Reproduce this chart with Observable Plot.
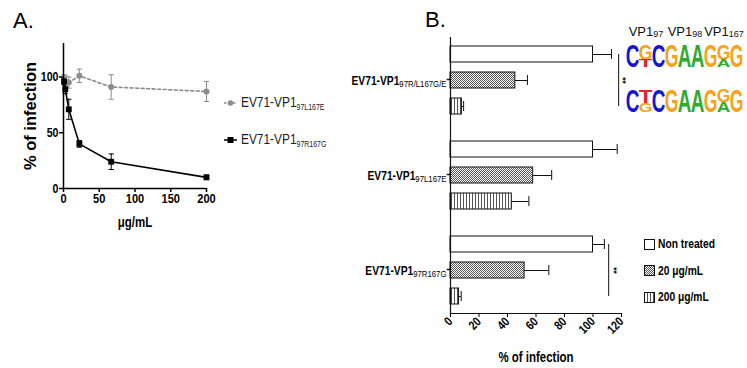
<!DOCTYPE html>
<html><head><meta charset="utf-8">
<script src="https://cdn.jsdelivr.net/npm/d3@7"></script>
<script src="https://cdn.jsdelivr.net/npm/@observablehq/plot@0.6"></script>
<style>
body{margin:0;background:#fff;}
#root{position:relative;width:747px;height:368px;overflow:hidden;background:#fff;font-family:"Liberation Sans",Arial,sans-serif;}
.abs{position:absolute;}
.plabel{position:absolute;font-family:"Liberation Sans",Arial,sans-serif;font-size:22px;line-height:22px;color:#000;}
.squeeze{display:inline-block;transform:scaleX(0.82);transform-origin:0 50%;}
#legA .lrow{display:flex;align-items:center;height:16px;margin-bottom:21px;font-size:14.5px;color:#222;white-space:nowrap;}
#legA sub{font-size:8.5px;vertical-align:-3px;}
#legA svg{margin-right:3px;}
#legB .lrow{display:flex;align-items:center;height:26.5px;font-size:12.5px;font-weight:bold;color:#000;white-space:nowrap;}
#legB svg{margin-right:3px;}
</style></head><body>
<svg width="0" height="0" style="position:absolute">
 <defs>
  <pattern id="pat20" width="2" height="2" patternUnits="userSpaceOnUse">
   <rect width="2" height="2" fill="#fff"/>
   <rect width="1" height="1" fill="#555"/>
   <rect x="1" y="1" width="1" height="1" fill="#555"/>
  </pattern>
  <pattern id="pat200" width="3" height="3" patternUnits="userSpaceOnUse">
   <rect width="3" height="3" fill="#fff"/>
   <rect x="0" y="0" width="1" height="3" fill="#555"/>
  </pattern>
 </defs>
</svg>
<div id="root">
 <div class="plabel" style="left:13px;top:10px">A.</div>
 <div class="plabel" style="left:425px;top:9px">B.</div>
 <div id="panelA" class="abs" style="left:0;top:0"></div>
 <div id="legA" class="abs" style="left:223px;top:95px"></div>
 <div id="panelB" class="abs" style="left:250px;top:0"></div>
 <div id="logo" class="abs" style="left:620px;top:0"></div>
 <div id="legB" class="abs" style="left:644px;top:231px"></div>
</div>
<script>
// ---------- Panel A data ----------
const concA = [0.82, 2.47, 7.41, 22.2, 66.7, 200];
const seriesNamesA = ["EV71-VP1_97L167E", "EV71-VP1_97R167G"];
const infectionL167E = [98, 96, 95, 101, 91, 87];
const errorL167E = [4, 5, 5, 6, 11, 9];
const infectionR167G = [96, 89, 71, 40, 24, 10];
const errorR167G = [3, 4, 9, 3, 7, 2];
const ticksAx = [0, 50, 100, 150, 200];
const ticksAy = [0, 50, 100];

// ---------- Panel B data ----------
const groupsB = ["EV71-VP1_97R/L167G/E", "EV71-VP1_97L167E", "EV71-VP1_97R167G"];
const treatmentsB = ["Non treated", "20 μg/mL", "200 μg/mL"];
const nonTreated = [100, 100, 100];
const nonTreatedErr = [13, 17, 8];
const treated20 = [45.5, 58, 52];
const treated20Err = [8.5, 13, 17];
const treated200 = [8, 43, 6];
const treated200Err = [1.2, 12, 1.5];
const ticksBx = [0, 20, 40, 60, 80, 100, 120];
const sigGroups = [groupsB[0], groupsB[2]];
const sigX = [118, 111];
const sigStarX = [121, 114.5];
const sigLabels = ["**", "**"];

// ---------- Sequence logo data ----------
const logoRows = ["row1", "row2"];
const logoLetters = [
  [["C"], ["G", "T"], ["C"], ["G"], ["A"], ["A"], ["G"], ["G", "A"], ["G"]],
  [["C"], ["T", "G"], ["C"], ["G"], ["A"], ["A"], ["G"], ["G", "A"], ["G"]]
];
const logoFractions = [
  [[1], [0.68, 0.32], [1], [1], [1], [1], [1], [0.68, 0.32], [1]],
  [[1], [0.6, 0.4], [1], [1], [1], [1], [1], [0.55, 0.45], [1]]
];
const logoHeaders = ["VP1_97", "VP1_98", "VP1_167"];
const logoHeaderPos = [2, 5, 8];

// ---------- styles ----------
const NARROW = "Arial, Liberation Sans, sans-serif";   // rendered condensed afterwards
const SANS = "Liberation Sans, Arial, sans-serif";
const SQUEEZE = 0.82;
const seriesColorA = ["#8c8c8c", "#000000"];
const letterColor = {A: "#2eaa2e", C: "#1414d2", G: "#f6a21a", T: "#e0262a"};
const capSym = {draw(ctx, size) { const w = Math.sqrt(size); ctx.moveTo(-w / 2, 0); ctx.lineTo(w / 2, 0); }};

function subscriptify(root, subSize, subDy, subWeight) {
  d3.select(root).selectAll("text").each(function() {
    const t = this.textContent;
    if (!t.includes("_")) return;
    const [a, b] = t.split("_");
    const el = d3.select(this);
    el.text(null);
    el.append("tspan").text(a);
    el.append("tspan").attr("font-size", subSize).attr("dy", subDy).attr("font-weight", subWeight).text(b);
  });
}
// condense texts drawn with the NARROW family (mimics the horizontally squeezed original)
function squeeze(root) {
  d3.select(root).selectAll("text").each(function() {
    const holder = this.closest("[font-family]");
    if (!holder || !holder.getAttribute("font-family").startsWith("Arial")) return;
    let tr = this.getAttribute("transform");
    if (!tr) {
      const x = this.getAttribute("x") || 0, y = this.getAttribute("y") || 0;
      tr = `translate(${x},${y})`;
      this.removeAttribute("x"); this.removeAttribute("y");
    }
    this.setAttribute("transform", `${tr} scale(${SQUEEZE},1)`);
  });
}

// ---------- Panel A ----------
const dataA = [];
[[infectionL167E, errorL167E], [infectionR167G, errorR167G]].forEach(([vals, errs], si) => {
  concA.forEach((c, i) => dataA.push({series: seriesNamesA[si], conc: c, v: vals[i], e: errs[i]}));
});
const isGray = d => d.series === seriesNamesA[0];
const isBlack = d => d.series === seriesNamesA[1];

const plotA = Plot.plot({
  width: 216, height: 233,
  marginLeft: 63, marginRight: 10, marginTop: 43, marginBottom: 45,
  style: {background: "none", overflow: "visible"},
  x: {domain: [0, 200]},
  y: {domain: [0, 130]},
  marks: [
    Plot.ruleX(dataA, {filter: isGray, x: "conc", y1: d => d.v - d.e, y2: d => d.v + d.e, stroke: seriesColorA[0], strokeWidth: 1}),
    Plot.dot(dataA, {filter: isGray, x: "conc", y: d => d.v - d.e, symbol: capSym, r: 3, fill: "none", stroke: seriesColorA[0], strokeWidth: 1}),
    Plot.dot(dataA, {filter: isGray, x: "conc", y: d => d.v + d.e, symbol: capSym, r: 3, fill: "none", stroke: seriesColorA[0], strokeWidth: 1}),
    Plot.ruleX(dataA, {filter: isBlack, x: "conc", y1: d => d.v - d.e, y2: d => d.v + d.e, stroke: seriesColorA[1], strokeWidth: 1}),
    Plot.dot(dataA, {filter: isBlack, x: "conc", y: d => d.v - d.e, symbol: capSym, r: 3, fill: "none", stroke: seriesColorA[1], strokeWidth: 1}),
    Plot.dot(dataA, {filter: isBlack, x: "conc", y: d => d.v + d.e, symbol: capSym, r: 3, fill: "none", stroke: seriesColorA[1], strokeWidth: 1}),
    Plot.line(dataA, {filter: isGray, x: "conc", y: "v", stroke: seriesColorA[0], strokeWidth: 1.6, strokeDasharray: "3,2.5"}),
    Plot.line(dataA, {filter: isBlack, x: "conc", y: "v", stroke: seriesColorA[1], strokeWidth: 1.6}),
    Plot.dot(dataA, {filter: isGray, x: "conc", y: "v", symbol: "circle", r: 3, fill: seriesColorA[0]}),
    Plot.dot(dataA, {filter: isBlack, x: "conc", y: "v", symbol: "square", r: 3.3, fill: seriesColorA[1]}),
    Plot.ruleX([0], {stroke: "black", strokeWidth: 1.5}),
    Plot.ruleY([0], {stroke: "black", strokeWidth: 1.5}),
    Plot.axisY({ticks: ticksAy, tickSize: 4, tickPadding: 1, fontSize: 13, fontWeight: "bold", fontFamily: NARROW, label: null, strokeWidth: 1.5}),
    Plot.axisX({ticks: ticksAx, tickSize: 4, tickPadding: 1, fontSize: 13.5, fontWeight: "bold", fontFamily: NARROW, label: null, strokeWidth: 1.5}),
    Plot.text(["% of infection"], {text: d => d, frameAnchor: "left", textAnchor: "middle", rotate: -90, dx: -33, fontSize: 16.5, fontWeight: "bold", fontFamily: SANS}),
    Plot.text(["μg/mL"], {text: d => d, frameAnchor: "bottom", dy: 38, fontSize: 14, fontWeight: "bold", fontFamily: NARROW})
  ]
});
document.getElementById("panelA").append(plotA);
squeeze(plotA);

// Legend A
const legA = d3.select("#legA");
seriesNamesA.forEach((name, i) => {
  const row = legA.append("div").attr("class", "lrow");
  const sw = row.append("svg").attr("width", 15).attr("height", 10);
  sw.append("line").attr("x1", 1).attr("x2", 14).attr("y1", 5).attr("y2", 5)
    .attr("stroke", seriesColorA[i]).attr("stroke-width", 1.5)
    .attr("stroke-dasharray", i === 0 ? "2.5,2" : null);
  if (i === 0) sw.append("circle").attr("cx", 7.5).attr("cy", 5).attr("r", 2.8).attr("fill", seriesColorA[i]);
  else sw.append("rect").attr("x", 4.5).attr("y", 2).attr("width", 6).attr("height", 6).attr("fill", seriesColorA[i]);
  const [m, s] = name.split("_");
  const tx = row.append("span").attr("class", "squeeze");
  tx.append("span").text(m);
  tx.append("sub").text(s);
});

// ---------- Panel B ----------
const valsB = [nonTreated, treated20, treated200];
const errsB = [nonTreatedErr, treated20Err, treated200Err];
const dataB = groupsB.flatMap((g, gi) => treatmentsB.map((t, ti) => ({group: g, treatment: t, v: valsB[ti][gi], e: errsB[ti][gi]})));
const sigData = sigGroups.map((g, i) => ({group: g, x: sigX[i], sx: sigStarX[i], label: sigLabels[i]}));
const fillKey = ["white", "#010101", "#020202"];

const plotB = Plot.plot({
  width: 400, height: 368,
  marginLeft: 200, marginRight: 29, marginTop: 37, marginBottom: 55,
  style: {background: "none", overflow: "visible"},
  x: {domain: [0, 120]},
  y: {domain: treatmentsB, paddingInner: 0.385, paddingOuter: 0.346, axis: null},
  fy: {domain: groupsB, paddingInner: 0.096, paddingOuter: 0, axis: null},
  marks: [
    ...treatmentsB.map((t, ti) => Plot.barX(dataB, {filter: d => d.treatment === t, fy: "group", y: "treatment", x: "v", fill: fillKey[ti], stroke: "#111", strokeWidth: 1})),
    Plot.ruleY(dataB, {fy: "group", y: "treatment", x1: "v", x2: d => d.v + d.e, stroke: "#111", strokeWidth: 1}),
    Plot.tickX(dataB, {fy: "group", y: "treatment", x: d => d.v + d.e, insetTop: 3, insetBottom: 3, stroke: "#111", strokeWidth: 1}),
    Plot.ruleX(sigData, {fy: "group", x: "x", y1: () => treatmentsB[0], y2: () => treatmentsB[2], insetTop: 8, insetBottom: 8, stroke: "#111", strokeWidth: 1}),
    Plot.text(sigData, {fy: "group", x: "sx", y: () => treatmentsB[1], text: "label", rotate: 90, fontSize: 8.5, fontWeight: "bold", fontFamily: SANS}),
    Plot.text(groupsB, {fy: d => d, text: d => d, frameAnchor: "left", textAnchor: "end", dx: -4, fontSize: 12.5, fontWeight: "bold", fontFamily: NARROW}),
    Plot.dot(groupsB, {fy: d => d, frameAnchor: "left", dx: -2, dy: -1, symbol: capSym, r: 2, fill: "none", stroke: "#111"}),
    Plot.frame({anchor: "left", facet: "super", stroke: "#111", strokeWidth: 1.2}),
    Plot.frame({anchor: "bottom", facet: "super", stroke: "#111", strokeWidth: 1.2}),
    Plot.axisX({ticks: ticksBx, tickRotate: -45, tickSize: 4, tickPadding: 2, fontSize: 12.5, fontWeight: "bold", fontFamily: NARROW, label: null}),
    Plot.axisX({ticks: [], tickSize: 0, label: "% of infection", labelAnchor: "center", labelOffset: 48, labelArrow: "none", fontSize: 14, fontWeight: "bold", fontFamily: NARROW})
  ]
});
document.getElementById("panelB").append(plotB);
d3.select(plotB).selectAll('[fill="#010101"]').attr("fill", "url(#pat20)");
d3.select(plotB).selectAll('[fill="#020202"]').attr("fill", "url(#pat200)");
subscriptify(plotB, 9.5, "0.3em", "normal");
squeeze(plotB);

// Legend B
const legB = d3.select("#legB");
treatmentsB.forEach((t, i) => {
  const row = legB.append("div").attr("class", "lrow");
  const sw = row.append("svg").attr("width", 11).attr("height", 11);
  sw.append("rect").attr("x", 0.5).attr("y", 0.5).attr("width", 10).attr("height", 10)
    .attr("fill", ["#fff", "url(#pat20)", "url(#pat200)"][i]).attr("stroke", "#111");
  row.append("span").attr("class", "squeeze").text(t);
});

// ---------- Sequence logo ----------
const logoData = [];
logoRows.forEach((r, ri) => {
  logoLetters[ri].forEach((stack, pi) => {
    let cum = 1;
    stack.forEach((L, k) => {
      const f = logoFractions[ri][pi][k];
      logoData.push({id: logoData.length, row: r, pos: pi + 1, letter: L, top: cum, bottom: cum - f, frac: f});
      cum -= f;
    });
  });
});
const headerData = logoHeaders.map((h, i) => ({row: logoRows[0], label: h, pos: logoHeaderPos[i]}));
const LFS = 20;
const plotLogo = Plot.plot({
  width: 127, height: 120,
  marginLeft: 6, marginRight: 4, marginTop: 43, marginBottom: 7,
  style: {background: "none", overflow: "visible"},
  x: {domain: [0.5, 9.5], axis: null},
  y: {domain: [0, 1], axis: null},
  fy: {domain: logoRows, paddingInner: 0.478, paddingOuter: 0, axis: null},
  color: {type: "identity"},
  marks: [
    Plot.text(logoData, {fy: "row", x: "pos", y: "bottom", text: "letter", fill: d => letterColor[d.letter], fontSize: LFS, fontWeight: "bold", fontFamily: SANS, ariaLabel: d => `logo-letter-${d.id}`}),
    Plot.text(headerData, {fy: "row", x: "pos", y: () => 1, dy: -13, text: "label", fontSize: 13, fontFamily: SANS, fill: "#111"})
  ]
});
document.getElementById("logo").append(plotLogo);
subscriptify(plotLogo, 9, "0.1em", "normal");
{
  const xs = plotLogo.scale("x"), fys = plotLogo.scale("fy");
  const bw = fys.bandwidth;
  const cellW = xs.apply(1.5) - xs.apply(0.5);
  const svgRoot = d3.select(plotLogo);
  const layer = svgRoot.append("g").attr("aria-label", "logo-letters-stretched")
    .attr("font-family", SANS).attr("font-weight", "bold").attr("font-size", LFS).attr("text-anchor", "middle");
  const nodes = d3.select(plotLogo).selectAll('text[aria-label^="logo-letter-"]').nodes();
  nodes.forEach((el) => {
    const id = +el.getAttribute("aria-label").slice("logo-letter-".length);
    const d = logoData[id];
    const X = xs.apply(d.pos);
    const Yb = fys.apply(d.row) + bw * (1 - d.bottom);
    const h = bw * d.frac;
    layer.node().appendChild(el);
    el.removeAttribute("dy"); el.removeAttribute("x");
    el.setAttribute("y", 0);
    el.setAttribute("fill", letterColor[d.letter]);
    el.textContent = d.letter;
    el.setAttribute("transform", "");
    const bb = el.getBBox();
    const sx = (cellW * 1.05) / bb.width;
    const sy = h / (0.716 * LFS);
    el.setAttribute("transform", `translate(${X},${Yb}) scale(${sx},${sy})`);
  });
}
</script>
</body></html>
